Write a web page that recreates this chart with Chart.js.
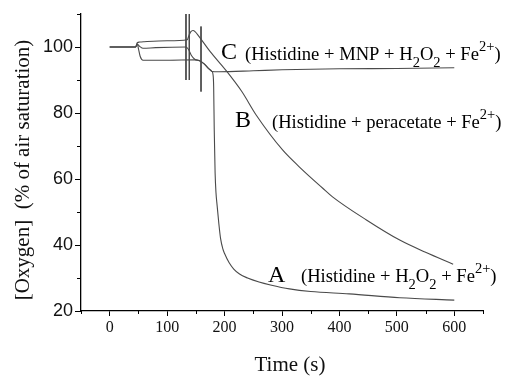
<!DOCTYPE html>
<html>
<head>
<meta charset="utf-8">
<script src="https://cdn.jsdelivr.net/npm/chart.js@4/dist/chart.umd.min.js"></script>
<style>
  html, body { margin: 0; padding: 0; background: #fff; }
  #wrap { width: 506px; height: 377px; }
</style>
</head>
<body>
<div id="wrap"><canvas id="grafic"></canvas></div>
<script>
// curve A: Histidine + H2O2 + Fe2+
const timeA = [0, 45, 48, 50, 53, 58, 100, 150, 156, 165, 172, 178, 180, 181, 182, 183.5, 185, 187, 190, 193, 197, 200, 208, 216, 226, 240, 260, 280, 313, 350, 417, 505, 600];
const oxygenA = [100, 100, 101, 99.5, 97.2, 96, 96, 96.1, 95.9, 94.8, 93.5, 92.6, 91.5, 88, 75, 62, 56, 52, 46.5, 42, 38.8, 37.4, 34.6, 32.7, 31.2, 30, 28.8, 27.9, 26.7, 25.9, 25.2, 24, 23.3];

// curve B: Histidine + peracetate + Fe2+
const timeB = [0, 45, 48, 52, 60, 100, 135, 138, 141, 145, 149, 155, 175, 202, 230, 255, 301, 330, 371, 388, 447, 505, 550, 598];
const oxygenB = [100, 100, 101.3, 101.5, 101.6, 101.9, 102.2, 103.5, 104.6, 105, 104.6, 103.3, 98.6, 93, 86.5, 79.4, 68.8, 63.7, 57.2, 54.6, 47.6, 41.5, 37.8, 34.2];

// curve C: Histidine + MNP + H2O2 + Fe2+
const timeC = [0, 45, 48, 52, 58, 80, 133, 137, 142, 148, 156, 165, 172, 178, 190, 250, 300, 400, 500, 600];
const oxygenC = [100, 100, 100.8, 100.2, 99.6, 99.8, 100, 99.3, 97.5, 96.3, 95.8, 94.8, 93.5, 92.6, 92.5, 92.8, 93.1, 93.4, 93.5, 93.7];

// injection marks (vertical strokes)
const markTimes = [132.8, 138.6, 159];
const markTop = [110, 110, 106.2];
const markBottom = [90, 90, 86.5];

const xTicks = [0, 100, 200, 300, 400, 500, 600];
const yTicks = [20, 40, 60, 80, 100];

function punts(ts, ys) {
    return ts.map((t, i) => ({ x: t, y: ys[i] }));
}

const linia = '#4a4a4a';
const corba = { borderColor: linia, borderWidth: 1.1, pointRadius: 0, fill: false, cubicInterpolationMode: 'monotone' };

const datasets = [
    Object.assign({ label: 'A', data: punts(timeA, oxygenA) }, corba),
    Object.assign({ label: 'B', data: punts(timeB, oxygenB) }, corba),
    Object.assign({ label: 'C', data: punts(timeC, oxygenC) }, corba)
];
markTimes.forEach(function (t, i) {
    datasets.push({
        label: 'mark' + i,
        data: [{ x: t, y: markTop[i] }, { x: t, y: markBottom[i] }],
        borderColor: linia, borderWidth: 1, pointRadius: 0, fill: false
    });
});

// text with sub- and superscripts: [text, 0 normal / -1 sub / 1 sup]
function textRic(ctx, x, y, trossos, mida) {
    trossos.forEach(function (tr) {
        const m = tr[1] === 0 ? mida : mida * 0.78;
        const dy = tr[1] === -1 ? mida * 0.35 : (tr[1] === 1 ? -mida * 0.5 : 0);
        ctx.font = m + 'px "Liberation Serif", "Times New Roman", serif';
        ctx.fillText(tr[0], x, y + dy);
        x += ctx.measureText(tr[0]).width;
    });
}

const etiquetes = [
    { lletra: 'C', lx: 221, ly: 59, tx: 245, ty: 60, trossos: [['(Histidine + MNP + H', 0], ['2', -1], ['O', 0], ['2', -1], [' + Fe', 0], ['2+', 1], [')', 0]] },
    { lletra: 'B', lx: 235, ly: 127, tx: 272, ty: 128, trossos: [['(Histidine + peracetate + Fe', 0], ['2+', 1], [')', 0]] },
    { lletra: 'A', lx: 268, ly: 282, tx: 301, ty: 282, trossos: [['(Histidine + H', 0], ['2', -1], ['O', 0], ['2', -1], [' + Fe', 0], ['2+', 1], [')', 0]] }
];

const decoracio = {
    id: 'decoracio',
    afterDraw: function (chart) {
        const ctx = chart.ctx;
        const xs = chart.scales.x, ys = chart.scales.y;
        const a = chart.chartArea;
        ctx.save();
        // minor ticks
        ctx.strokeStyle = '#000';
        ctx.lineWidth = 1;
        ctx.beginPath();
        for (let v = -50; v <= 650; v += 100) {
            const px = Math.round(xs.getPixelForValue(v)) + 0.5;
            ctx.moveTo(px, a.bottom); ctx.lineTo(px, a.bottom + 3);
        }
        for (let v = 30; v <= 110; v += 20) {
            const py = Math.round(ys.getPixelForValue(v)) + 0.5;
            ctx.moveTo(a.left, py); ctx.lineTo(a.left - 4, py);
        }
        ctx.stroke();

        // curve labels
        ctx.fillStyle = '#000';
        ctx.textBaseline = 'alphabetic';
        ctx.textAlign = 'left';
        etiquetes.forEach(function (e) {
            ctx.font = '24px "Liberation Serif", "Times New Roman", serif';
            ctx.fillText(e.lletra, e.lx, e.ly);
            textRic(ctx, e.tx, e.ty, e.trossos, 18.6);
        });

        // axis titles
        ctx.fillStyle = '#111';
        ctx.font = '21px "Liberation Serif", "Times New Roman", serif';
        ctx.textAlign = 'center';
        ctx.textBaseline = 'middle';
        ctx.fillText('Time (s)', 290, 365);
        ctx.translate(23, 170);
        ctx.rotate(-Math.PI / 2);
        ctx.fillText('[Oxygen]  (% of air saturation)', 0, 0);
        ctx.restore();
    }
};

document.addEventListener('DOMContentLoaded', function () {
    const ctx = document.getElementById('grafic').getContext('2d');
    new Chart(ctx, {
        type: 'line',
        data: { datasets: datasets },
        options: {
            responsive: true,
            maintainAspectRatio: false,
            animation: false,
            layout: { padding: { top: 14, right: 23, left: 0, bottom: 0 } },
            plugins: { legend: { display: false }, tooltip: { enabled: false } },
            scales: {
                x: {
                    type: 'linear',
                    min: -50,
                    max: 650,
                    afterFit: function (s) { s.height = 66; },
                    afterBuildTicks: function (s) { s.ticks = xTicks.map(v => ({ value: v })); },
                    ticks: {
                        autoSkip: false,
                        maxRotation: 0,
                        padding: 2,
                        color: '#111',
                        font: { family: '"Liberation Serif", "Times New Roman", serif', size: 16 }
                    },
                    grid: { drawOnChartArea: false, tickLength: 5, tickColor: '#000', tickWidth: 1 },
                    border: { display: true, color: '#000', width: 1.3 }
                },
                y: {
                    min: 20,
                    max: 110,
                    afterFit: function (s) { s.width = 81; },
                    afterBuildTicks: function (s) { s.ticks = yTicks.map(v => ({ value: v })); },
                    ticks: {
                        autoSkip: false,
                        padding: 2,
                        color: '#111',
                        font: { family: '"Liberation Sans", Arial, sans-serif', size: 18 }
                    },
                    grid: { drawOnChartArea: false, tickLength: 6, tickColor: '#000', tickWidth: 1 },
                    border: { display: true, color: '#000', width: 1.3 }
                }
            }
        },
        plugins: [decoracio]
    });
});
</script>
</body>
</html>
